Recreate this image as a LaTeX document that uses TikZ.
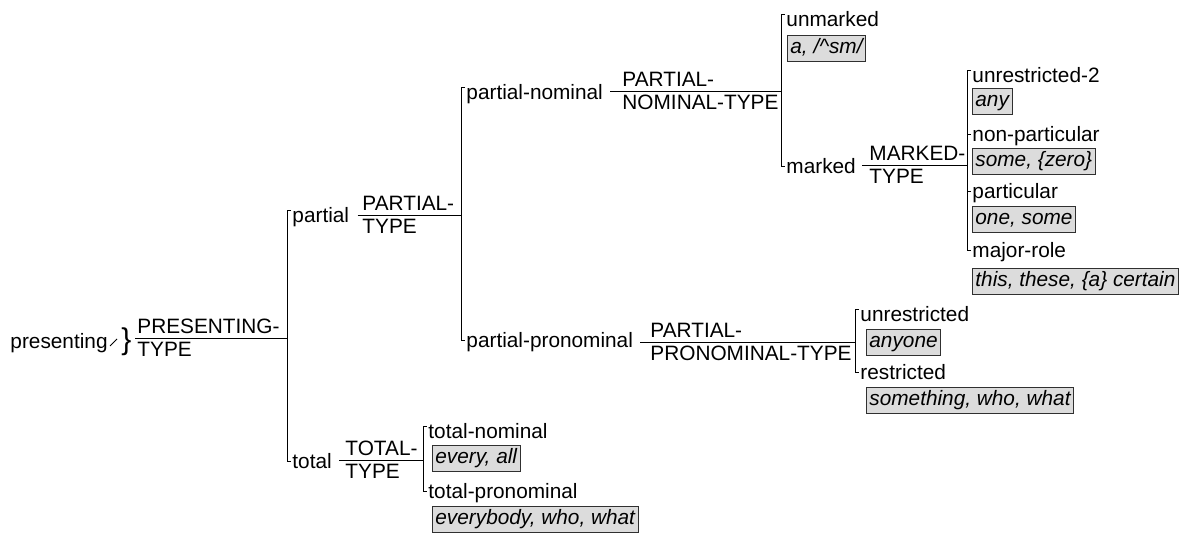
\documentclass[tikz,border=0pt]{standalone}
\usepackage{fontspec}
\setmainfont{Liberation Sans}
\definecolor{exfill}{HTML}{DCDCDC}
\definecolor{exline}{HTML}{303030}
\newcommand{\netfont}{\fontsize{20.8}{24}\selectfont}
\begin{document}
\begin{tikzpicture}[x=1pt,y=1pt,line width=0.9pt,
  feat/.style={anchor=base west,inner sep=0pt,font=\netfont},
  sysup/.style={anchor=base west,inner sep=0pt,font=\netfont},
  sysdn/.style={anchor=north west,inner sep=0pt,font=\netfont},
  example/.style={anchor=north west,draw=exline,fill=exfill,line width=0.8pt,
    inner xsep=3pt,inner ysep=3pt,text height=15pt,text depth=5pt,
    font=\netfont\itshape}]
\useasboundingbox (0,0) rectangle (1197,-533);

% ---- entry condition ----
\node[feat] (presenting) at (10,-348) {presenting};
\node[inner sep=0pt,font=\fontsize{30}{32}\selectfont] (brace) at (126.5,-341.5) {\}};
\draw ([shift={(2,2)}]presenting.base east) -- ++(7,7);
\coordinate (p0) at (135,-338);
\node[sysup] (presA) at (137,-333) {PRESENTING-};
\node[sysdn] (presB) at (137,-342) {TYPE};

% ---- first level ----
\node[feat] (partial) at (292,-222) {partial};
\node[feat] (total) at (292,-468) {total};
\coordinate (bar1) at ([xshift=-5pt]partial.base west);
\draw (p0) -- (p0 -| bar1);
\draw ([shift={(-1,12)}]partial.base west) -- ++(-4,0) |- ([shift={(-1,7)}]total.base west);

% PARTIAL-TYPE
\coordinate (lPart) at ([shift={(8,7)}]partial.base east);
\node[sysup] (partA) at (362,-210) {PARTIAL-};
\node[sysdn] (partB) at (362,-219) {TYPE};
\node[feat] (pnom) at (466,-99) {partial-nominal};
\node[feat] (ppron) at (466,-347) {partial-pronominal};
\coordinate (bar2) at ([xshift=-5pt]pnom.base west);
\draw (lPart) -- (lPart -| bar2);
\draw ([shift={(-1,12)}]pnom.base west) -- ++(-4,0) |- ([shift={(-1,7)}]ppron.base west);

% PARTIAL-NOMINAL-TYPE
\coordinate (lPnom) at ([shift={(7,8)}]pnom.base east);
\node[sysup] (pnA) at (622,-86) {PARTIAL-};
\node[sysdn] (pnB) at (622,-95) {NOMINAL-TYPE};
\node[feat] (unmarked) at (786,-26) {unmarked};
\node[example] (exUnm) at (787,-35) {a, /\^{}sm/};
\node[feat] (marked) at (786,-173) {marked};
\coordinate (bar3) at ([xshift=-5pt]unmarked.base west);
\draw (lPnom) -- (lPnom -| bar3);
\draw ([shift={(-1,12)}]unmarked.base west) -- ++(-4,0) |- ([shift={(-1,7)}]marked.base west);

% MARKED-TYPE
\coordinate (lMark) at ([shift={(6,8)}]marked.base east);
\node[sysup] (mkA) at (869,-160) {MARKED-};
\node[sysdn] (mkB) at (869,-169) {TYPE};
\node[feat] (unr2) at (972,-82) {unrestricted-2};
\node[example] (exAny) at (972,-88) {any};
\node[feat] (nonpart) at (972,-141) {non-particular};
\node[example] (exSome) at (972,-148) {some, \{zero\}};
\node[feat] (part) at (972,-198) {particular};
\node[example] (exOne) at (972,-206) {one, some};
\node[feat] (major) at (972,-257) {major-role};
\node[example] (exThis) at (972,-268) {this, these, \{a\} certain};
\coordinate (bar4) at ([xshift=-5pt]unr2.base west);
\draw (lMark) -- (lMark -| bar4);
\draw ([shift={(-1,12)}]unr2.base west) -- ++(-4,0) |- ([shift={(-1,7)}]major.base west);
\draw ([shift={(-1,7)}]nonpart.base west) -- ++(-4,0);
\draw ([shift={(-1,7)}]part.base west) -- ++(-4,0);

% PARTIAL-PRONOMINAL-TYPE
\coordinate (lPpron) at ([shift={(7,5)}]ppron.base east);
\node[sysup] (ppA) at (650,-337) {PARTIAL-};
\node[sysdn] (ppB) at (650,-346) {PRONOMINAL-TYPE};
\node[feat] (unr) at (860,-321) {unrestricted};
\node[example] (exAnyone) at (866,-329) {anyone};
\node[feat] (restr) at (860,-379) {restricted};
\node[example] (exSomething) at (866,-387) {something, who, what};
\coordinate (bar5) at ([xshift=-5pt]unr.base west);
\draw (lPpron) -- (lPpron -| bar5);
\draw ([shift={(-1,12)}]unr.base west) -- ++(-4,0) |- ([shift={(-1,7)}]restr.base west);

% TOTAL-TYPE
\coordinate (lTot) at ([shift={(7,8)}]total.base east);
\node[sysup] (totA) at (345,-455) {TOTAL-};
\node[sysdn] (totB) at (345,-464) {TYPE};
\node[feat] (tnom) at (428,-438) {total-nominal};
\node[example] (exEvery) at (432,-445) {every, all};
\node[feat] (tpron) at (428,-498) {total-pronominal};
\node[example] (exEverybody) at (432,-506) {everybody, who, what};
\coordinate (bar6) at ([xshift=-5pt]tnom.base west);
\draw (lTot) -- (lTot -| bar6);
\draw ([shift={(-1,12)}]tnom.base west) -- ++(-4,0) |- ([shift={(-1,7)}]tpron.base west);
\end{tikzpicture}
\end{document}
